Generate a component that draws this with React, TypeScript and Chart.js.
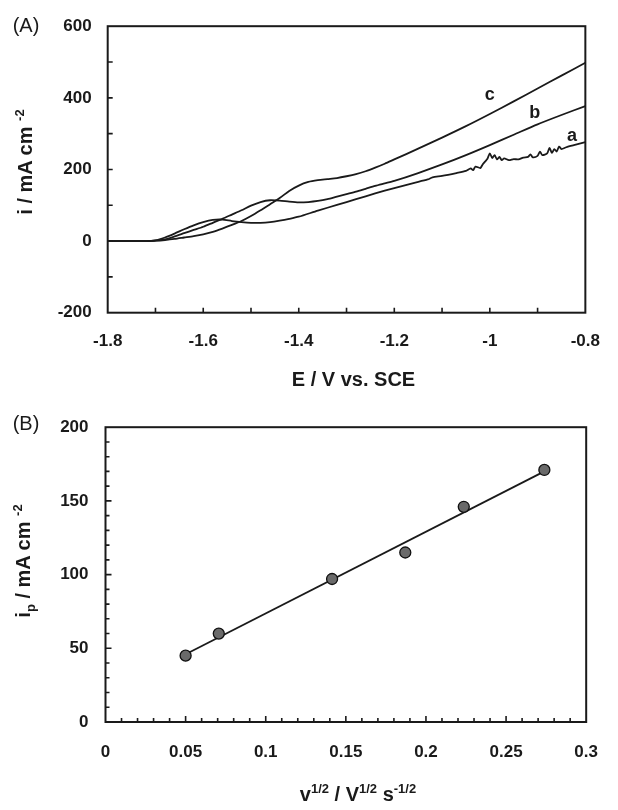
import { useEffect, useRef } from "react";
import type { CSSProperties, ReactNode } from "react";
import { Chart, registerables } from "chart.js";

Chart.register(...registerables);

// ---- panel A: current vs potential, curves a, b, c ----
const potentialA = [
  -1.8, -1.76, -1.72, -1.7, -1.68, -1.66, -1.64, -1.62, -1.6, -1.58, -1.56, -1.54, -1.52, -1.5,
  -1.48, -1.46, -1.44, -1.42, -1.4, -1.36, -1.32, -1.28, -1.24, -1.2, -1.16, -1.13, -1.12, -1.1,
  -1.07, -1.05, -1.04, -1.035, -1.03, -1.02, -1.015, -1.01, -1.005, -1.0, -0.995, -0.99, -0.985,
  -0.98, -0.975, -0.97, -0.96, -0.95, -0.94, -0.93, -0.92, -0.915, -0.91, -0.9, -0.895, -0.89,
  -0.88, -0.875, -0.87, -0.865, -0.86, -0.855, -0.85, -0.84, -0.82, -0.8,
];
const currentA = [
  0, 0, 0, 2, 10, 21, 33, 44, 53, 59, 60, 56, 53, 51,
  51, 53, 57, 62, 68, 85, 101, 117, 133, 148, 162, 172, 178, 182,
  190, 196, 203, 198, 208, 204, 214, 222, 230, 245, 232, 240, 228,
  235, 226, 231, 226, 229, 228, 233, 235, 242, 234, 238, 250, 240,
  245, 260, 246, 257, 250, 264, 257, 262, 269, 276,
];

const potentialBC = [
  -1.8, -1.76, -1.72, -1.7, -1.68, -1.66, -1.64, -1.62, -1.6, -1.58, -1.56, -1.54, -1.52, -1.5,
  -1.48, -1.46, -1.44, -1.42, -1.4, -1.38, -1.36, -1.34, -1.32, -1.3, -1.28, -1.26, -1.24, -1.22,
  -1.2, -1.15, -1.1, -1.05, -1.0, -0.95, -0.9, -0.85, -0.8,
];
const currentB = [
  0, 0, 0, 1, 5, 13, 22, 31, 40, 51, 62, 74, 86, 99,
  109, 114, 113, 110, 108, 109, 112, 117, 124, 131, 138, 146, 154, 161,
  168, 190, 214, 240, 268, 297, 326, 352, 377,
];
const currentC = [
  0, 0, 0, 1, 3, 6, 10, 14, 19, 26, 35, 45, 56, 70,
  86, 103, 120, 140, 155, 165, 170, 173, 176, 181, 187, 195, 205, 216,
  228, 258, 289, 321, 355, 390, 426, 462, 498,
];

const curveNames = ["a", "b", "c"];
const curveNameE = [-0.828, -0.906, -1.0];
const curveNameI = [293, 358, 407];

// ---- panel B: peak current vs square root of scan rate ----
const sqrtScanRate = [0.05, 0.0707, 0.1414, 0.1871, 0.2236, 0.2739];
const peakCurrent = [45, 60, 97, 115, 146, 171];
const fitX = [0.05, 0.2739];
const fitY = [46, 170];

const FONT = '"Liberation Sans", Arial, Helvetica, sans-serif';
const INK = "#1a1a1a";

const pts = (xs: number[], ys: number[]) => xs.map((x, i) => ({ x, y: ys[i] }));

// box round the plot area with inward tick marks
const frame = (minor: number, major: number) => ({
  id: "frame",
  afterDraw(chart: any) {
    const { ctx, chartArea: a } = chart;
    ctx.save();
    ctx.strokeStyle = INK;
    ctx.lineWidth = 1.6;
    ctx.beginPath();
    for (const t of chart.scales.x.ticks) {
      const px = chart.scales.x.getPixelForValue(t.value);
      if (px < a.left + 1 || px > a.right - 1) continue;
      const len = t.label ? major : minor;
      ctx.moveTo(px, a.bottom);
      ctx.lineTo(px, a.bottom - len);
    }
    for (const t of chart.scales.y.ticks) {
      const py = chart.scales.y.getPixelForValue(t.value);
      if (py < a.top + 1 || py > a.bottom - 1) continue;
      const len = t.label ? major : minor;
      ctx.moveTo(a.left, py);
      ctx.lineTo(a.left + len, py);
    }
    ctx.stroke();
    ctx.lineWidth = 2;
    ctx.strokeRect(a.left, a.top, a.right - a.left, a.bottom - a.top);
    ctx.restore();
  },
});

const curveLabels = {
  id: "curveLabels",
  afterDatasetsDraw(chart: any) {
    const { ctx } = chart;
    ctx.save();
    ctx.fillStyle = INK;
    ctx.font = `bold 18px ${FONT}`;
    ctx.textAlign = "center";
    ctx.textBaseline = "middle";
    curveNames.forEach((n, i) => {
      ctx.fillText(
        n,
        chart.scales.x.getPixelForValue(curveNameE[i]),
        chart.scales.y.getPixelForValue(curveNameI[i])
      );
    });
    ctx.restore();
  },
};

const tickFont = { family: FONT, size: 17, weight: "bold" as const };

function configA(): any {
  const line = (xs: number[], ys: number[]) => ({
    data: pts(xs, ys),
    showLine: true,
    borderColor: INK,
    borderWidth: 1.8,
    pointRadius: 0,
    tension: 0.25,
  });
  return {
    type: "scatter",
    data: {
      datasets: [
        line(potentialA, currentA),
        line(potentialBC, currentB),
        line(potentialBC, currentC),
      ],
    },
    options: {
      animation: false,
      responsive: true,
      maintainAspectRatio: false,
      layout: { padding: { top: 20, right: 20.3, left: 0, bottom: 0 } },
      plugins: { legend: { display: false }, tooltip: { enabled: false } },
      scales: {
        x: {
          type: "linear",
          min: -1.8,
          max: -0.8,
          afterFit: (s: any) => { s.height = 87.3; },
          grid: { display: false, drawTicks: false },
          border: { display: false },
          ticks: {
            stepSize: 0.1,
            autoSkip: false,
            maxRotation: 0,
            padding: 18,
            color: INK,
            font: tickFont,
            callback: (v: number) =>
              Math.round(v * 10) % 2 === 0 ? String(Math.round(v * 10) / 10) : "",
          },
        },
        y: {
          min: -200,
          max: 600,
          afterFit: (s: any) => { s.width = 107.7; },
          grid: { display: false, drawTicks: false },
          border: { display: false },
          ticks: {
            stepSize: 100,
            autoSkip: false,
            padding: 16,
            color: INK,
            font: tickFont,
            callback: (v: number) => (Math.round(v) % 200 === 0 ? String(Math.round(v)) : ""),
          },
        },
      },
    },
    plugins: [frame(5, 5), curveLabels],
  };
}

function configB(): any {
  return {
    type: "scatter",
    data: {
      datasets: [
        {
          data: pts(sqrtScanRate, peakCurrent),
          pointRadius: 5.5,
          pointBackgroundColor: "#6a6a6a",
          pointBorderColor: "#111",
          pointBorderWidth: 1.3,
          order: 0,
        },
        {
          data: pts(fitX, fitY),
          showLine: true,
          borderColor: INK,
          borderWidth: 1.8,
          pointRadius: 0,
          order: 1,
        },
      ],
    },
    options: {
      animation: false,
      responsive: true,
      maintainAspectRatio: false,
      layout: { padding: { top: 17, right: 17.3, left: 0, bottom: 0 } },
      plugins: { legend: { display: false }, tooltip: { enabled: false } },
      scales: {
        x: {
          type: "linear",
          min: 0,
          max: 0.3,
          afterFit: (s: any) => { s.height = 88; },
          grid: { display: false, drawTicks: false },
          border: { display: false },
          ticks: {
            stepSize: 0.01,
            autoSkip: false,
            maxRotation: 0,
            padding: 20,
            color: INK,
            font: tickFont,
            callback: (v: number) =>
              Math.round(v * 100) % 5 === 0 ? String(Math.round(v * 100) / 100) : "",
          },
        },
        y: {
          min: 0,
          max: 200,
          afterFit: (s: any) => { s.width = 105.5; },
          grid: { display: false, drawTicks: false },
          border: { display: false },
          ticks: {
            stepSize: 10,
            autoSkip: false,
            padding: 17,
            color: INK,
            font: tickFont,
            callback: (v: number) => (Math.round(v) % 50 === 0 ? String(Math.round(v)) : ""),
          },
        },
      },
    },
    plugins: [frame(4, 6)],
  };
}

function ChartBox({ make, style }: { make: () => any; style: CSSProperties }) {
  const ref = useRef<HTMLCanvasElement>(null);
  useEffect(() => {
    if (!ref.current) return;
    const chart = new Chart(ref.current, make());
    return () => chart.destroy();
  }, []);
  return (
    <div style={{ position: "absolute", left: 0, width: 618, ...style }}>
      <canvas ref={ref} />
    </div>
  );
}

function Label({
  x, y, size = 20, bold = true, vertical = false, children,
}: {
  x: number; y: number; size?: number; bold?: boolean; vertical?: boolean; children: ReactNode;
}) {
  return (
    <div
      style={{
        position: "absolute",
        left: x,
        top: y,
        transform: `translate(-50%, -50%)${vertical ? " rotate(-90deg)" : ""}`,
        fontFamily: FONT,
        fontSize: size,
        fontWeight: bold ? "bold" : "normal",
        lineHeight: 1,
        whiteSpace: "nowrap",
        color: INK,
      }}
    >
      {children}
    </div>
  );
}

const sup: CSSProperties = { fontSize: 13, lineHeight: 0, verticalAlign: "super" };
const sub: CSSProperties = { fontSize: 13, lineHeight: 0, verticalAlign: "sub" };

export default function App() {
  return (
    <div style={{ position: "absolute", left: 0, top: 0, width: 618, height: 810, background: "#fff" }}>
      <ChartBox make={configA} style={{ top: 0, height: 400 }} />
      <ChartBox make={configB} style={{ top: 400, height: 410 }} />

      <Label x={26} y={25} size={20} bold={false}>(A)</Label>
      <Label x={26} y={423} size={20} bold={false}>(B)</Label>

      <Label x={353.5} y={379}>E / V vs. SCE</Label>
      <Label x={25} y={162} vertical>
        i / mA cm <span style={sup}>-2</span>
      </Label>

      <Label x={358} y={794}>
        v<span style={sup}>1/2</span> / V<span style={sup}>1/2</span> s<span style={sup}>-1/2</span>
      </Label>
      <Label x={23} y={561} vertical>
        i<span style={sub}>p</span> / mA cm <span style={sup}>-2</span>
      </Label>
    </div>
  );
}
